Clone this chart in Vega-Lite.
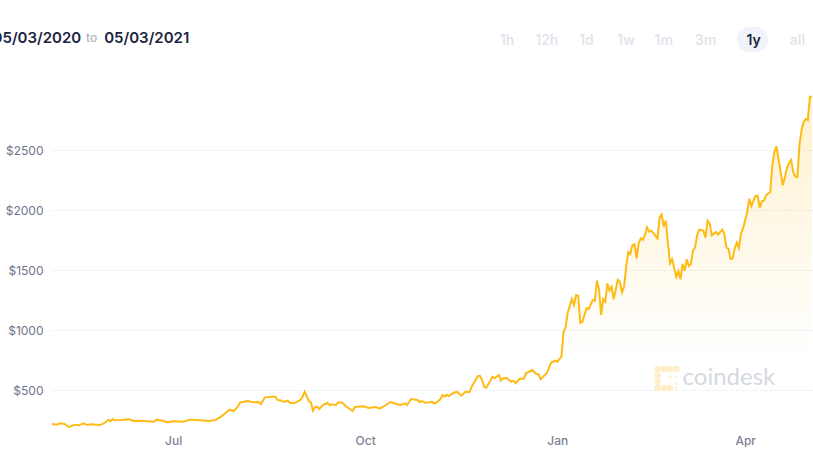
{
  "$schema": "https://vega.github.io/schema/vega-lite/v6.json",
  "description": "Ethereum price over one year, May 2020 to May 2021.",
  "width": 760,
  "height": 340,
  "autosize": "none",
  "padding": {"left": 52, "top": 90, "right": 1, "bottom": 27},
  "background": "white",
  "datasets": {
    "prices": [
      {"date":"2020-05-04","price":217},{"date":"2020-05-06","price":211},{"date":"2020-05-08","price":223},{"date":"2020-05-10","price":217},{"date":"2020-05-12","price":192},{"date":"2020-05-13","price":198},{"date":"2020-05-15","price":211},{"date":"2020-05-17","price":206},{"date":"2020-05-19","price":223},{"date":"2020-05-21","price":208},{"date":"2020-05-23","price":214},{"date":"2020-05-27","price":208},{"date":"2020-05-29","price":223},{"date":"2020-05-31","price":250},
      {"date":"2020-06-01","price":240},{"date":"2020-06-02","price":258},{"date":"2020-06-03","price":248},{"date":"2020-06-06","price":250},{"date":"2020-06-10","price":256},{"date":"2020-06-12","price":242},{"date":"2020-06-15","price":244},{"date":"2020-06-22","price":236},{"date":"2020-06-23","price":253},{"date":"2020-06-26","price":244},{"date":"2020-06-28","price":231},
      {"date":"2020-07-01","price":239},{"date":"2020-07-06","price":236},{"date":"2020-07-09","price":253},{"date":"2020-07-14","price":248},{"date":"2020-07-18","price":242},{"date":"2020-07-21","price":248},{"date":"2020-07-24","price":278},{"date":"2020-07-26","price":306},{"date":"2020-07-28","price":336},{"date":"2020-07-30","price":325},
      {"date":"2020-08-01","price":361},{"date":"2020-08-02","price":394},{"date":"2020-08-05","price":406},{"date":"2020-08-06","price":408},{"date":"2020-08-08","price":397},{"date":"2020-08-11","price":400},{"date":"2020-08-12","price":383},{"date":"2020-08-14","price":439},{"date":"2020-08-17","price":444},{"date":"2020-08-19","price":444},{"date":"2020-08-20","price":417},{"date":"2020-08-22","price":411},{"date":"2020-08-23","price":400},{"date":"2020-08-25","price":411},{"date":"2020-08-26","price":394},{"date":"2020-08-28","price":389},{"date":"2020-08-31","price":417},
      {"date":"2020-09-01","price":444},{"date":"2020-09-02","price":486},{"date":"2020-09-03","price":450},{"date":"2020-09-04","price":408},{"date":"2020-09-05","price":397},{"date":"2020-09-06","price":328},{"date":"2020-09-07","price":356},{"date":"2020-09-08","price":361},{"date":"2020-09-09","price":342},{"date":"2020-09-11","price":378},{"date":"2020-09-13","price":392},{"date":"2020-09-14","price":373},{"date":"2020-09-15","price":381},{"date":"2020-09-17","price":373},{"date":"2020-09-18","price":398},{"date":"2020-09-20","price":394},{"date":"2020-09-22","price":361},{"date":"2020-09-23","price":350},{"date":"2020-09-25","price":325},{"date":"2020-09-26","price":358},{"date":"2020-09-30","price":364},
      {"date":"2020-10-03","price":350},{"date":"2020-10-06","price":358},{"date":"2020-10-08","price":344},{"date":"2020-10-11","price":375},{"date":"2020-10-13","price":400},{"date":"2020-10-16","price":383},{"date":"2020-10-18","price":375},{"date":"2020-10-20","price":389},{"date":"2020-10-21","price":375},{"date":"2020-10-23","price":425},{"date":"2020-10-26","price":417},{"date":"2020-10-27","price":400},{"date":"2020-10-28","price":408},{"date":"2020-10-30","price":394},
      {"date":"2020-11-01","price":398},{"date":"2020-11-02","price":403},{"date":"2020-11-03","price":389},{"date":"2020-11-04","price":394},{"date":"2020-11-06","price":422},{"date":"2020-11-07","price":458},{"date":"2020-11-08","price":444},{"date":"2020-11-09","price":461},{"date":"2020-11-10","price":450},{"date":"2020-11-12","price":473},{"date":"2020-11-14","price":486},{"date":"2020-11-16","price":453},{"date":"2020-11-18","price":486},{"date":"2020-11-20","price":483},{"date":"2020-11-21","price":528},{"date":"2020-11-24","price":617},{"date":"2020-11-25","price":617},{"date":"2020-11-26","price":583},{"date":"2020-11-27","price":525},{"date":"2020-11-28","price":519},
      {"date":"2020-12-01","price":611},{"date":"2020-12-02","price":598},{"date":"2020-12-04","price":625},{"date":"2020-12-05","price":578},{"date":"2020-12-06","price":598},{"date":"2020-12-08","price":598},{"date":"2020-12-10","price":569},{"date":"2020-12-11","price":578},{"date":"2020-12-12","price":556},{"date":"2020-12-14","price":594},{"date":"2020-12-16","price":594},{"date":"2020-12-17","price":639},{"date":"2020-12-20","price":667},{"date":"2020-12-22","price":633},{"date":"2020-12-23","price":631},{"date":"2020-12-24","price":589},{"date":"2020-12-26","price":625},{"date":"2020-12-27","price":639},{"date":"2020-12-29","price":728},{"date":"2020-12-31","price":744},
      {"date":"2021-01-01","price":736},{"date":"2021-01-03","price":778},{"date":"2021-01-04","price":986},{"date":"2021-01-05","price":1023},{"date":"2021-01-06","price":1144},{"date":"2021-01-08","price":1258},{"date":"2021-01-09","price":1208},{"date":"2021-01-10","price":1292},{"date":"2021-01-11","price":1286},{"date":"2021-01-12","price":1061},{"date":"2021-01-13","price":1069},{"date":"2021-01-15","price":1181},{"date":"2021-01-16","price":1175},{"date":"2021-01-18","price":1250},{"date":"2021-01-19","price":1242},{"date":"2021-01-20","price":1411},{"date":"2021-01-21","price":1339},{"date":"2021-01-22","price":1125},{"date":"2021-01-23","price":1258},{"date":"2021-01-24","price":1236},{"date":"2021-01-25","price":1389},{"date":"2021-01-26","price":1328},{"date":"2021-01-27","price":1361},{"date":"2021-01-28","price":1256},{"date":"2021-01-30","price":1417},{"date":"2021-01-31","price":1398},
      {"date":"2021-02-01","price":1314},{"date":"2021-02-02","price":1361},{"date":"2021-02-03","price":1528},{"date":"2021-02-04","price":1650},{"date":"2021-02-05","price":1633},{"date":"2021-02-06","price":1708},{"date":"2021-02-07","price":1714},{"date":"2021-02-08","price":1597},{"date":"2021-02-09","price":1722},{"date":"2021-02-10","price":1764},{"date":"2021-02-11","price":1750},{"date":"2021-02-12","price":1792},{"date":"2021-02-13","price":1856},{"date":"2021-02-14","price":1819},{"date":"2021-02-15","price":1828},{"date":"2021-02-17","price":1786},{"date":"2021-02-18","price":1764},{"date":"2021-02-19","price":1939},{"date":"2021-02-20","price":1964},{"date":"2021-02-21","price":1861},{"date":"2021-02-22","price":1911},{"date":"2021-02-23","price":1725},{"date":"2021-02-24","price":1556},{"date":"2021-02-25","price":1589},{"date":"2021-02-26","price":1517},{"date":"2021-02-27","price":1444},{"date":"2021-02-28","price":1492},
      {"date":"2021-03-01","price":1423},{"date":"2021-03-02","price":1550},{"date":"2021-03-03","price":1494},{"date":"2021-03-04","price":1589},{"date":"2021-03-05","price":1533},{"date":"2021-03-06","price":1550},{"date":"2021-03-07","price":1661},{"date":"2021-03-08","price":1689},{"date":"2021-03-09","price":1792},{"date":"2021-03-10","price":1836},{"date":"2021-03-12","price":1828},{"date":"2021-03-13","price":1769},{"date":"2021-03-14","price":1911},{"date":"2021-03-15","price":1889},{"date":"2021-03-16","price":1789},{"date":"2021-03-18","price":1817},{"date":"2021-03-19","price":1794},{"date":"2021-03-21","price":1836},{"date":"2021-03-22","price":1800},{"date":"2021-03-23","price":1686},{"date":"2021-03-24","price":1678},{"date":"2021-03-25","price":1592},{"date":"2021-03-26","price":1597},{"date":"2021-03-27","price":1681},{"date":"2021-03-28","price":1728},{"date":"2021-03-29","price":1683},{"date":"2021-03-30","price":1806},{"date":"2021-03-31","price":1848},
      {"date":"2021-04-01","price":1917},{"date":"2021-04-02","price":1986},{"date":"2021-04-03","price":2094},{"date":"2021-04-04","price":2033},{"date":"2021-04-05","price":2083},{"date":"2021-04-06","price":2117},{"date":"2021-04-07","price":2119},{"date":"2021-04-08","price":2017},{"date":"2021-04-09","price":2072},{"date":"2021-04-10","price":2078},{"date":"2021-04-11","price":2123},{"date":"2021-04-13","price":2148},{"date":"2021-04-14","price":2375},{"date":"2021-04-15","price":2483},{"date":"2021-04-16","price":2533},{"date":"2021-04-17","price":2417},{"date":"2021-04-18","price":2317},{"date":"2021-04-19","price":2206},{"date":"2021-04-20","price":2270},{"date":"2021-04-21","price":2350},{"date":"2021-04-22","price":2392},{"date":"2021-04-23","price":2417},{"date":"2021-04-24","price":2317},{"date":"2021-04-25","price":2279},{"date":"2021-04-26","price":2275},{"date":"2021-04-27","price":2542},{"date":"2021-04-28","price":2667},{"date":"2021-04-29","price":2733},{"date":"2021-04-30","price":2758},
      {"date":"2021-05-01","price":2750},{"date":"2021-05-02","price":2944},{"date":"2021-05-03","price":2944}
    ],
    "ranges": [
      {"label":"1h","date":"2020-12-08","price":3408,"active":false},{"label":"12h","date":"2020-12-27","price":3408,"active":false},{"label":"1d","date":"2021-01-15","price":3408,"active":false},{"label":"1w","date":"2021-02-03","price":3408,"active":false},{"label":"1m","date":"2021-02-21","price":3408,"active":false},{"label":"3m","date":"2021-03-13","price":3408,"active":false},{"label":"1y","date":"2021-04-05","price":3408,"active":true},{"label":"all","date":"2021-04-26","price":3408,"active":false}
    ],
    "logo": [
      {"date":"2021-02-18","price":675,"big":true},{"date":"2021-02-21","price":675,"big":true},{"date":"2021-02-24","price":675,"big":true},{"date":"2021-02-27","price":675,"big":true},{"date":"2021-02-18","price":621,"big":true},{"date":"2021-02-18","price":567,"big":true},{"date":"2021-02-18","price":517,"big":true},{"date":"2021-02-21","price":517,"big":true},{"date":"2021-02-24","price":517,"big":true},{"date":"2021-02-27","price":608,"big":false},{"date":"2021-02-27","price":550,"big":false},{"date":"2021-02-27","price":517,"big":false},{"date":"2021-02-24","price":608,"big":false}
    ]
  },
  "layer": [
    {
      "data": {"name": "prices"},
      "mark": {
        "type": "area",
        "color": {
          "gradient": "linear",
          "x1": 0, "y1": 0, "x2": 0, "y2": 1,
          "stops": [
            {"offset": 0, "color": "rgba(255,187,17,0.2)"},
            {"offset": 0.75, "color": "rgba(255,187,17,0)"}
          ]
        }
      },
      "encoding": {
        "x": {
          "field": "date",
          "type": "temporal",
          "title": null,
          "scale": {"type": "utc", "domain": [{"year":2020,"month":5,"date":4,"utc":true}, {"year":2021,"month":5,"date":3,"utc":true}]},
          "axis": {
            "values": [{"year":2020,"month":7,"date":1,"utc":true}, {"year":2020,"month":10,"date":1,"utc":true}, {"year":2021,"month":1,"date":1,"utc":true}, {"year":2021,"month":4,"date":1,"utc":true}],
            "format": "%b",
            "domain": false,
            "ticks": false,
            "grid": false,
            "labelFont": "Inter",
            "labelFontSize": 12,
            "labelFontWeight": 500,
            "labelColor": "#7d8194",
            "labelPadding": 5
          }
        },
        "y": {
          "field": "price",
          "type": "quantitative",
          "title": null,
          "scale": {"domain": [166.7, 3000], "nice": false, "zero": false},
          "axis": {
            "values": [500, 1000, 1500, 2000, 2500],
            "format": "$d",
            "domain": false,
            "ticks": false,
            "grid": true,
            "gridColor": "#d3def0",
            "gridDash": [1, 2],
            "gridWidth": 1,
            "labelFont": "Inter",
            "labelFontSize": 12,
            "labelColor": "#6f7489",
            "labelPadding": 9
          }
        }
      }
    },
    {
      "data": {"name": "logo"},
      "mark": {"type": "point", "filled": true, "color": "#ffeec9", "opacity": 1},
      "encoding": {
        "x": {"field": "date", "type": "temporal"},
        "y": {"field": "price", "type": "quantitative"},
        "size": {"field": "big", "type": "nominal", "scale": {"domain": [true, false], "range": [42, 7]}, "legend": null}
      }
    },
    {
      "data": {"name": "prices"},
      "mark": {"type": "line", "color": "#fdbb14", "strokeWidth": 2},
      "encoding": {
        "x": {"field": "date", "type": "temporal"},
        "y": {"field": "price", "type": "quantitative"}
      }
    },
    {
      "data": {"values": [{"label": "coindesk", "date": "2021-03-02", "price": 600}]},
      "mark": {"type": "text", "align": "left", "baseline": "middle", "font": "Lato", "fontSize": 24, "color": "#d5d8e1"},
      "encoding": {
        "x": {"field": "date", "type": "temporal"},
        "y": {"field": "price", "type": "quantitative"},
        "text": {"field": "label"}
      }
    },
    {
      "data": {"values": [{"label": "05/03/2020", "date": "2020-05-18", "price": 3430}]},
      "mark": {"type": "text", "align": "right", "baseline": "middle", "font": "Inter", "fontSize": 15, "fontWeight": 600, "color": "#1c2440"},
      "encoding": {
        "x": {"field": "date", "type": "temporal"},
        "y": {"field": "price", "type": "quantitative"},
        "text": {"field": "label"}
      }
    },
    {
      "data": {"values": [{"label": "to", "date": "2020-05-23", "price": 3430}]},
      "mark": {"type": "text", "align": "center", "baseline": "middle", "font": "Inter", "fontSize": 12, "fontWeight": 500, "color": "#b0b3c3"},
      "encoding": {
        "x": {"field": "date", "type": "temporal"},
        "y": {"field": "price", "type": "quantitative"},
        "text": {"field": "label"}
      }
    },
    {
      "data": {"values": [{"label": "05/03/2021", "date": "2020-05-29", "price": 3430}]},
      "mark": {"type": "text", "align": "left", "baseline": "middle", "font": "Inter", "fontSize": 15, "fontWeight": 600, "color": "#1c2440"},
      "encoding": {
        "x": {"field": "date", "type": "temporal"},
        "y": {"field": "price", "type": "quantitative"},
        "text": {"field": "label"}
      }
    },
    {
      "data": {"values": [{"from": "2021-03-28", "to": "2021-04-12", "low": 3317, "high": 3525}]},
      "mark": {"type": "rect", "color": "#f0f3f9", "cornerRadius": 12.5},
      "encoding": {
        "x": {"field": "from", "type": "temporal"},
        "x2": {"field": "to"},
        "y": {"field": "low", "type": "quantitative"},
        "y2": {"field": "high"}
      }
    },
    {
      "data": {"name": "ranges"},
      "mark": {"type": "text", "align": "center", "baseline": "middle", "font": "Inter", "fontSize": 14, "fontWeight": 600},
      "encoding": {
        "x": {"field": "date", "type": "temporal"},
        "y": {"field": "price", "type": "quantitative"},
        "text": {"field": "label"},
        "color": {"condition": {"test": "datum.active", "value": "#1c2440"}, "value": "#e2e5ee"}
      }
    }
  ],
  "config": {"view": {"stroke": null}}
}
